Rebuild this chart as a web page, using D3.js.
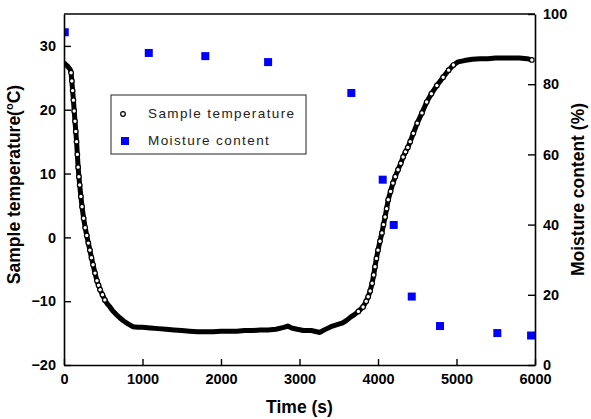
<!DOCTYPE html>
<html>
<head>
<meta charset="utf-8">
<script src="https://cdn.jsdelivr.net/npm/d3@7"></script>
<style>
  body { margin: 0; background: #fff; }
  svg { display: block; font-family: "Liberation Sans", Arial, sans-serif; }
  .tick text { font-size: 14.5px; font-weight: bold; fill: #000; }
  .axis-label { font-size: 17.5px; font-weight: bold; fill: #000; }
  .legend-text { font-size: 13.5px; fill: #222; letter-spacing: 1.4px; }
</style>
</head>
<body>
<svg id="chart"></svg>
<script>
// sample temperature
const timeS = [0, 20, 40, 60, 80, 90, 100, 110, 120, 130, 140, 150, 160, 170, 180, 190, 200, 215, 230, 250,
  270, 290, 310, 330, 350, 370, 395, 420, 440, 460, 490, 520, 550, 585, 620, 660, 710, 760, 820, 880,
  940, 1000, 1100, 1200, 1300, 1400, 1500, 1600, 1700, 1800, 1900, 2000, 2100, 2200, 2300, 2400, 2500, 2600, 2700, 2800,
  2850, 2900, 2970, 3050, 3150, 3260, 3300, 3350, 3400, 3450, 3500, 3550, 3600, 3650, 3700, 3750, 3810, 3850, 3875, 3900,
  3925, 3945, 3962, 3980, 4000, 4025, 4050, 4070, 4090, 4110, 4130, 4160, 4190, 4220, 4255, 4290, 4320, 4350, 4380, 4410,
  4450, 4500, 4560, 4620, 4680, 4750, 4830, 4900, 4960, 5020, 5100, 5200, 5300, 5400, 5500, 5600, 5700, 5800, 5900, 5960];
const tempC = [27.4, 27.1, 26.9, 26.6, 26.3, 25.8, 24.5, 23.0, 21.5, 19.8, 18.2, 16.6, 15.0, 13.0, 11.0, 9.5, 8.2, 6.4, 4.8, 3.0,
  1.5, 0.3, -0.9, -2.0, -3.2, -4.3, -5.6, -6.8, -7.5, -8.2, -9.0, -9.8, -10.4, -10.9, -11.5, -12.0, -12.6, -13.1, -13.6, -14.0,
  -14.1, -14.1, -14.2, -14.3, -14.4, -14.5, -14.6, -14.7, -14.8, -14.8, -14.8, -14.7, -14.7, -14.7, -14.6, -14.6, -14.5, -14.5, -14.4, -14.1,
  -13.9, -14.2, -14.4, -14.6, -14.6, -14.9, -14.6, -14.3, -14.0, -13.8, -13.6, -13.4, -13.0, -12.5, -12.1, -11.6, -10.9, -10.0, -9.3, -8.4,
  -7.2, -5.9, -4.6, -3.3, -2.0, -0.6, 0.7, 2.0, 3.2, 4.5, 5.9, 7.2, 8.5, 9.5, 10.6, 11.6, 12.6, 13.4, 14.1, 15.0,
  16.3, 17.9, 19.5, 21.2, 22.5, 23.8, 25.1, 26.2, 27.0, 27.5, 27.7, 27.9, 28.0, 28.0, 28.1, 28.1, 28.1, 28.1, 28.0, 27.8];

// moisture content
const moistTime = [10, 1080, 1800, 2600, 3660, 4060, 4200, 4430, 4790, 5520, 5950];
const moistPct = [94.8, 88.9, 88.0, 86.3, 77.5, 52.8, 39.9, 19.5, 11.1, 9.1, 8.4];

const xTicks = [0, 1000, 2000, 3000, 4000, 5000, 6000];
const leftTicks = [-20, -10, 0, 10, 20, 30];
const rightTicks = [0, 20, 40, 60, 80, 100];
const legendNames = ["Sample temperature", "Moisture content"];

const width = 591;
const height = 419;
const margin = { top: 14, right: 56, bottom: 54, left: 64 };
const innerWidth = width - margin.left - margin.right;
const innerHeight = height - margin.top - margin.bottom;

const svg = d3.select("#chart").attr("width", width).attr("height", height);

const xScale = d3.scaleLinear().domain([0, 6000]).range([0, innerWidth]);
const yTemp = d3.scaleLinear().domain([-20, 35]).range([innerHeight, 0]);
const yMoist = d3.scaleLinear().domain([0, 100]).range([innerHeight, 0]);

const g = svg.append("g").attr("transform", `translate(${margin.left},${margin.top})`);

g.append("clipPath").attr("id", "plotclip")
  .append("rect").attr("width", innerWidth).attr("height", innerHeight);

const plot = g.append("g").attr("clip-path", "url(#plotclip)");

// temperature: the dense open circles merge into a thick band
const pts = timeS.map((t, i) => [t, tempC[i]]);
plot.append("path")
  .datum(pts)
  .attr("fill", "none")
  .attr("stroke", "#000")
  .attr("stroke-width", 5)
  .attr("stroke-linejoin", "round")
  .attr("d", d3.line().x((d) => xScale(d[0])).y((d) => yTemp(d[1])));

// open circles stay visible only where samples spread apart (steep parts)
const spread = (i) => {
  const dy = (j) => (j >= 0 && j < pts.length ? Math.abs(yTemp(pts[j][1]) - yTemp(pts[i][1])) : 0);
  return Math.max(dy(i - 1), dy(i + 1));
};
plot.selectAll("circle.temp")
  .data(pts.filter((d, i) => spread(i) > 4 || i === pts.length - 1))
  .enter()
  .append("circle")
  .attr("class", "temp")
  .attr("cx", (d) => xScale(d[0]))
  .attr("cy", (d) => yTemp(d[1]))
  .attr("r", 2.3)
  .attr("fill", "#fff")
  .attr("stroke", "#000")
  .attr("stroke-width", 1.2);

// moisture squares
const sq = 8;
plot.selectAll("rect.moist")
  .data(moistTime.map((t, i) => [t, moistPct[i]]))
  .enter()
  .append("rect")
  .attr("class", "moist")
  .attr("x", (d) => xScale(d[0]) - sq / 2)
  .attr("y", (d) => yMoist(d[1]) - sq / 2)
  .attr("width", sq)
  .attr("height", sq)
  .attr("fill", "#0000ff");

// axes, ticks pointing inward
const fmt = d3.format("d");
const xAxisG = g.append("g")
  .attr("transform", `translate(0,${innerHeight})`)
  .call(d3.axisBottom(xScale).tickValues(xTicks).tickFormat(fmt).tickSize(-6).tickSizeOuter(0).tickPadding(9));

const yAxisG = g.append("g")
  .call(d3.axisLeft(yTemp).tickValues(leftTicks).tickFormat(fmt).tickSize(-7).tickSizeOuter(0).tickPadding(8));

const y2AxisG = g.append("g")
  .attr("transform", `translate(${innerWidth},0)`)
  .call(d3.axisRight(yMoist).tickValues(rightTicks).tickFormat(fmt).tickSize(-7).tickSizeOuter(0).tickPadding(8));

[xAxisG, yAxisG, y2AxisG].forEach((a) => {
  a.select(".domain").attr("stroke-width", 1.6);
  a.selectAll(".tick line").attr("stroke-width", 1.4);
});

// top frame
g.append("line")
  .attr("x1", 0).attr("x2", innerWidth)
  .attr("y1", 0).attr("y2", 0)
  .attr("stroke", "#000").attr("stroke-width", 1.6);

// axis labels
g.append("text")
  .attr("class", "axis-label")
  .attr("x", innerWidth / 2)
  .attr("y", innerHeight + 48)
  .attr("text-anchor", "middle")
  .text("Time (s)");

const yl = g.append("text")
  .attr("class", "axis-label")
  .attr("transform", `translate(-44,${innerHeight / 2 - 5}) rotate(-90)`)
  .attr("text-anchor", "middle");
yl.append("tspan").text("Sample temperature(");
yl.append("tspan").attr("dy", -7).attr("font-size", "11px").text("o");
yl.append("tspan").attr("dy", 7).text("C)");

g.append("text")
  .attr("class", "axis-label")
  .attr("transform", `translate(${innerWidth + 49},${innerHeight / 2}) rotate(-90)`)
  .attr("text-anchor", "middle")
  .text("Moisture content (%)");

// legend
const lg = g.append("g").attr("transform", "translate(47,81)");
lg.append("rect")
  .attr("width", 195).attr("height", 59)
  .attr("fill", "#fff").attr("stroke", "#222").attr("stroke-width", 1);
lg.append("circle")
  .attr("cx", 12).attr("cy", 19).attr("r", 2.3)
  .attr("fill", "#fff").attr("stroke", "#000").attr("stroke-width", 1.2);
lg.append("rect")
  .attr("x", 10).attr("y", 42).attr("width", 8).attr("height", 8)
  .attr("fill", "#0000ff");
lg.selectAll("text.legend-text")
  .data(legendNames)
  .enter()
  .append("text")
  .attr("class", "legend-text")
  .attr("x", 37)
  .attr("y", (d, i) => 23 + i * 27)
  .text((d) => d);
</script>
</body>
</html>
